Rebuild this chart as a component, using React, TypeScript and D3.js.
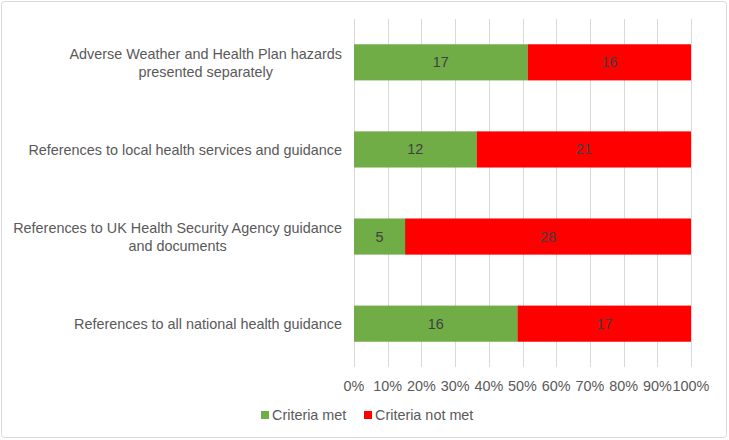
import React, { useEffect, useRef } from 'react';
import * as d3 from 'd3';

const categories = [
  ['Adverse Weather and Health Plan hazards', 'presented separately'],
  ['References to local health services and guidance'],
  ['References to UK Health Security Agency guidance', 'and documents'],
  ['References to all national health guidance'],
];
const met = [17, 12, 5, 16];
const notMet = [16, 21, 28, 17];
const seriesNames = ['Criteria met', 'Criteria not met'];
const colors = ['#70AD47', '#FF0000'];
const ticks = [0, 0.1, 0.2, 0.3, 0.4, 0.5, 0.6, 0.7, 0.8, 0.9, 1];

const App = () => {
  const ref = useRef<SVGSVGElement>(null);
  const svgWidth = 729;
  const svgHeight = 440;
  const margin = { top: 19, right: 38, bottom: 73, left: 354 };
  const width = svgWidth - margin.left - margin.right;
  const height = svgHeight - margin.top - margin.bottom;

  useEffect(() => {
    const svg = d3.select(ref.current);
    svg.selectAll('*').remove();

    const font = '"Liberation Sans", Arial, sans-serif';
    const fs = 14.4;

    // chart border
    svg.append('rect')
      .attr('x', 1.5).attr('y', 1.5)
      .attr('width', 725).attr('height', 436)
      .attr('rx', 3)
      .attr('fill', '#fff')
      .attr('stroke', '#D9D9D9');

    const g = svg.append('g').attr('transform', `translate(${margin.left},${margin.top})`);

    const x = d3.scaleLinear().domain([0, 1]).range([0, width]);
    const y = d3.scaleBand<number>()
      .domain(categories.map((_, i) => i))
      .range([0, height])
      .paddingInner(0.585)
      .paddingOuter(0.29);

    // gridlines
    g.selectAll('line.grid')
      .data(ticks)
      .enter()
      .append('line')
      .attr('x1', d => Math.round(x(d)) + 0.5)
      .attr('x2', d => Math.round(x(d)) + 0.5)
      .attr('y1', 0)
      .attr('y2', height)
      .attr('stroke', '#D9D9D9');

    // stacked bars
    categories.forEach((_, i) => {
      const total = met[i] + notMet[i];
      const vals = [met[i], notMet[i]];
      let acc = 0;
      vals.forEach((v, s) => {
        const x0 = x(acc / total);
        const x1 = x((acc + v) / total);
        acc += v;
        g.append('rect')
          .attr('x', x0)
          .attr('y', y(i)!)
          .attr('width', x1 - x0)
          .attr('height', y.bandwidth())
          .attr('fill', colors[s]);
        g.append('text')
          .attr('x', (x0 + x1) / 2)
          .attr('y', y(i)! + y.bandwidth() / 2)
          .attr('dy', '0.35em')
          .attr('text-anchor', 'middle')
          .attr('font-family', font)
          .attr('font-size', fs)
          .attr('fill', '#404040')
          .text(v);
      });
    });

    // category labels
    categories.forEach((lines, i) => {
      const cy = y(i)! + y.bandwidth() / 2 + 0.5;
      const lh = 18;
      const t = g.append('text')
        .attr('text-anchor', 'middle')
        .attr('font-family', font)
        .attr('font-size', fs)
        .attr('fill', '#595959');
      lines.forEach((l, k) => {
        t.append('tspan')
          .attr('x', -12)
          .attr('y', cy + (k - (lines.length - 1) / 2) * lh)
          .attr('dy', '0.35em')
          .text(l);
      });
      // right-align the block, center lines within it
      const bb = (t.node() as SVGTextElement).getBBox();
      t.attr('transform', `translate(${-bb.width / 2},0)`);
    });

    // x axis labels
    g.selectAll('text.tick')
      .data(ticks)
      .enter()
      .append('text')
      .attr('x', d => x(d))
      .attr('y', height + 18.5)
      .attr('dy', '0.35em')
      .attr('text-anchor', 'middle')
      .attr('font-family', font)
      .attr('font-size', fs)
      .attr('fill', '#595959')
      .text(d => d3.format('.0%')(d));

    // legend
    const legendX = [261, 364];
    seriesNames.forEach((name, s) => {
      svg.append('rect')
        .attr('x', legendX[s])
        .attr('y', 411)
        .attr('width', 8)
        .attr('height', 8)
        .attr('fill', colors[s]);
      svg.append('text')
        .attr('x', legendX[s] + 11)
        .attr('y', 415)
        .attr('dy', '0.35em')
        .attr('font-family', font)
        .attr('font-size', fs)
        .attr('fill', '#595959')
        .text(name);
    });
  }, []);

  return (
    <svg
      ref={ref}
      width={svgWidth}
      height={svgHeight}
      style={{ position: 'absolute', left: 0, top: 0, display: 'block' }}
    />
  );
};

export default App;
